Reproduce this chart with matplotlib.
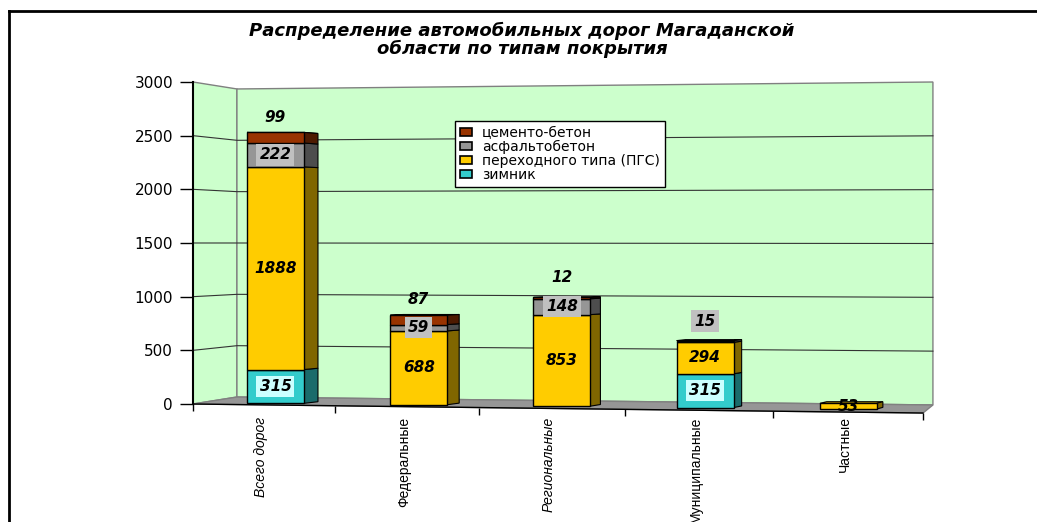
import numpy as np
import matplotlib.pyplot as plt
from matplotlib import font_manager
from matplotlib.patches import Polygon, Patch
from matplotlib.lines import Line2D

categories = ['Всего дорог', 'Федеральные', 'Региональные', 'Муниципальные', 'Частные']
zimnik = [315, 0, 0, 315, 0]
pgs = [1888, 688, 853, 294, 53]
asphalt = [222, 59, 148, 15, 0]
cement = [99, 87, 12, 0, 0]
series_labels = ['зимник', 'переходного типа (ПГС)', 'асфальтобетон', 'цементо-бетон']
yticks = [0, 500, 1000, 1500, 2000, 2500, 3000]
title_lines = ['Распределение автомобильных дорог Магаданской', 'области по типам покрытия']

front_colors = ['#33CCCC', '#FFCC00', '#969696', '#993300']
side_colors = ['#1A6B6B', '#806600', '#4D4D4D', '#4D1A00']
label_boxes = ['#CCFFFF', None, '#C0C0C0', None]

W, H = 1037, 522


def persp(u):
    # floor ticks spread out a little to the right (3d look)
    return (141 * u + u ** 2) / 146.0


def floor_front(x):
    return -16.8 * x


XL, XR = 0.301, 5.068


def back_left(v):
    return 65 + v * 0.9567


def back_right(v):
    return -9 + v * 1.003


def side_dx(x):
    return 0.01396 * (7.63 - x)


def side_dy(v):
    return 0.01 * (1500 - v)


def main():
    names = {f.name for f in font_manager.fontManager.ttflist}
    if 'Liberation Sans Narrow' in names:
        xfont, xsize = 'Liberation Sans Narrow', 12
    else:
        xfont, xsize = 'Liberation Sans', 10

    fig = plt.figure(figsize=(W / 100, H / 100), dpi=100)
    ax = fig.add_axes([193 / W, 1 - 404 / H, 730 / W, 322 / H])
    ax.set_xlim(0, 5)
    ax.set_ylim(0, 3000)
    ax.patch.set_visible(False)
    for s in ['top', 'right', 'bottom']:
        ax.spines[s].set_visible(False)
    ax.spines['left'].set_linewidth(1.5)
    ax.spines['left'].set_zorder(2)

    # walls and floor
    wall_kw = dict(facecolor='#CCFFCC', edgecolor='#808080', lw=1, clip_on=False, zorder=0.5)
    ax.add_patch(Polygon([(0, 0), (0, 3000), (XL, back_left(3000)), (XL, back_left(0))], **wall_kw))
    ax.add_patch(Polygon([(XL, back_left(0)), (XL, back_left(3000)),
                          (XR, back_right(3000)), (XR, back_right(0))], **wall_kw))
    for v in yticks[1:-1]:
        ax.plot([0, XL, XR], [v, back_left(v), back_right(v)], color='#333333', lw=0.8,
                clip_on=False, zorder=0.55)
    ax.add_patch(Polygon([(0, 0), (5, floor_front(5)), (XR, back_right(0)), (XL, back_left(0))],
                         facecolor='#969696', edgecolor='#808080', lw=1, clip_on=False, zorder=0.6))
    ax.plot([0, 5], [0, floor_front(5)], color='black', lw=1, clip_on=False, zorder=0.7)

    tx = persp(np.arange(6))
    ax.vlines(tx, floor_front(tx) - 65, floor_front(tx), color='black', lw=1, clip_on=False)

    # bars
    series = np.array([zimnik, pgs, asphalt, cement], dtype=float)
    xc = 0.565 + 0.981 * np.arange(len(categories))
    bw = 0.39
    base = 14 - 13.5 * xc
    tops = base + series.sum(axis=0)
    n_seg = (series > 0).sum(axis=0)

    for i in range(len(categories)):
        k = np.nonzero(series[:, i])[0][-1]
        xl, xr = xc[i] - bw / 2, xc[i] + bw / 2
        yt = tops[i]
        dy = side_dy(yt)
        ax.add_patch(Polygon([(xl, yt), (xl + side_dx(xl), yt + dy), (xr + side_dx(xr), yt + dy), (xr, yt)],
                             facecolor=front_colors[k], edgecolor='black', lw=0.8, zorder=3, clip_on=False))

    cum = base.copy()
    for k in range(len(series)):
        vals = series[k]
        m = vals > 0
        ax.bar(xc[m], vals[m], bw, bottom=cum[m], color=front_colors[k], edgecolor='black',
               lw=1, zorder=4, clip_on=False)
        for i in np.nonzero(m)[0]:
            xr = xc[i] + bw / 2
            dx = side_dx(xr)
            y0, y1 = cum[i], cum[i] + vals[i]
            ax.add_patch(Polygon([(xr, y0), (xr + dx, y0 + side_dy(y0)), (xr + dx, y1 + side_dy(y1)), (xr, y1)],
                                 facecolor=side_colors[k], edgecolor='black', lw=0.8, zorder=3, clip_on=False))
            y = (y0 + y1) / 2
            if k == np.nonzero(series[:, i])[0][-1] and n_seg[i] > 1:
                y += 190
            box = None
            if label_boxes[k]:
                box = dict(boxstyle='square,pad=0.2', fc=label_boxes[k], ec='none')
            ax.text(xc[i], y, f'{int(vals[i])}', ha='center', va='center', fontsize=11,
                    fontweight='bold', style='italic', bbox=box, zorder=6)
        cum += vals

    # axes ticks
    ax.set_yticks(yticks)
    ax.tick_params(axis='y', length=9.4, width=1, pad=5, labelsize=11)
    ax.set_xticks(persp(np.arange(len(categories)) + 0.48))
    ax.set_xticklabels(categories, rotation=90, va='top', ha='center',
                       family=[xfont, 'DejaVu Sans'], fontsize=xsize)
    ax.tick_params(axis='x', length=0, pad=9)
    for i in (0, 2):
        ax.get_xticklabels()[i].set_style('italic')

    # legend
    handles = [Patch(facecolor=front_colors[k], edgecolor='black', lw=1.2) for k in (3, 2, 1, 0)]
    labels = [series_labels[k] for k in (3, 2, 1, 0)]
    leg = ax.legend(handles, labels, loc='upper left', bbox_to_anchor=(455 / W, 1 - 121 / H),
                    bbox_transform=fig.transFigure, fancybox=False, edgecolor='black', framealpha=1,
                    fontsize=10, handlelength=0.9, handleheight=0.5, handletextpad=0.7,
                    labelspacing=0.0, borderpad=0.35, borderaxespad=0)
    leg.get_frame().set_linewidth(1)
    leg.set_zorder(7)

    for j, line in enumerate(title_lines):
        fig.text(522 / W, 1 - (31 + 18 * j) / H, line, ha='center', va='center', fontsize=13,
                 fontweight='bold', style='italic')

    # outer frame of the chart
    fig.add_artist(Line2D([9 / W, 9 / W], [0, 1 - 11 / H], transform=fig.transFigure, color='black', lw=2))
    fig.add_artist(Line2D([9 / W, 1], [1 - 11 / H, 1 - 11 / H], transform=fig.transFigure, color='black', lw=2))

    fig.savefig('out.png', dpi=100)


if __name__ == '__main__':
    main()
